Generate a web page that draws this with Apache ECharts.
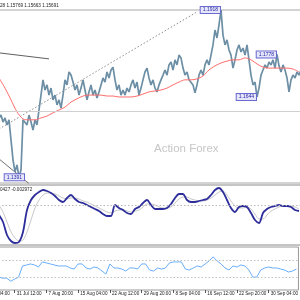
<!DOCTYPE html>
<html><head><meta charset="utf-8">
<script src="https://cdn.jsdelivr.net/npm/echarts@6/dist/echarts.min.js"></script>
<style>html,body{margin:0;padding:0;background:#fff;overflow:hidden;width:300px;height:300px}
#c{position:absolute;left:-33px;top:0;width:334px;height:300px}</style>
</head><body><div id="c"></div>
<script>
// ---- data (4H bars, sampled) ----
const tickLabels = ['24 Jul 04:00','31 Jul 12:00','7 Aug 20:00','15 Aug 04:00','22 Aug 12:00','29 Aug 20:00','8 Sep 04:00','16 Sep 12:00','22 Sep 20:00','30 Sep 04:00'];
const headerMain = '28 1.15769 1.15663 1.15691';
const headerMacd = '0427 -0.002972';
const priceClose = [1.1578,1.1587,1.1565,1.1578,1.1556,1.1572,1.1509,1.1446,1.1408,1.1430,1.1391,1.1414,
1.1572,1.1578,1.1556,1.1587,1.1565,1.1540,1.1572,1.1556,1.1603,1.1650,1.1698,1.1666,1.1682,1.1650,1.1672,1.1635,
1.1650,1.1619,1.1635,1.1609,1.1650,1.1698,1.1682,1.1723,1.1713,1.1691,1.1666,1.1682,1.1650,1.1672,1.1698,1.1666,
1.1635,1.1660,1.1682,1.1650,1.1666,1.1641,1.1660,1.1682,1.1704,1.1691,1.1723,1.1704,1.1729,1.1738,1.1698,1.1666,
1.1682,1.1650,1.1666,1.1650,1.1672,1.1660,1.1682,1.1698,1.1672,1.1691,1.1650,1.1672,1.1698,1.1723,1.1735,1.1704,
1.1682,1.1698,1.1672,1.1660,1.1682,1.1698,1.1713,1.1729,1.1713,1.1745,1.1754,1.1729,1.1761,1.1745,1.1776,1.1767,
1.1735,1.1713,1.1723,1.1698,1.1704,1.1682,1.1657,1.1682,1.1713,1.1729,1.1713,1.1745,1.1761,1.1745,1.1776,1.1808,
1.1855,1.1830,1.1871,1.1918,1.1839,1.1808,1.1824,1.1792,1.1776,1.1735,1.1761,1.1792,1.1808,1.1786,1.1798,1.1776,
1.1808,1.1761,1.1713,1.1682,1.1691,1.1644,1.1672,1.1713,1.1729,1.1745,1.1735,1.1754,1.1745,1.1761,1.1735,1.1778,
1.1742,1.1723,1.1745,1.1729,1.1704,1.1660,1.1698,1.1713,1.1704,1.1723,1.1713,1.1729];
const maLine = [1.1704,1.1672,1.1635,1.1597,1.1575,1.1572,1.1572,1.1578,1.1584,1.1594,1.1603,1.1612,1.1628,1.1638,
1.1647,1.1650,1.1650,1.1650,1.1647,1.1647,1.1644,1.1644,1.1644,1.1647,1.1653,1.1660,1.1663,1.1666,1.1672,1.1682,
1.1691,1.1698,1.1698,1.1701,1.1710,1.1729,1.1742,1.1751,1.1757,1.1761,1.1761,1.1767,1.1761,1.1748,1.1738,1.1735,
1.1735,1.1735,1.1735,1.1732,1.1723];
const macdMain = [-0.0010,-0.0017,-0.0030,-0.0036,-0.0038,-0.0037,-0.0027,-0.0005,0.0005,0.0010,0.0013,0.0015,0.0014,
0.0012,0.0009,0.0005,0.0003,0.0007,0.0010,0.0006,0.0003,0.0002,0.0000,-0.0002,-0.0004,-0.0006,-0.0009,-0.0011,-0.0011,
0.0000,-0.0003,-0.0005,-0.0008,-0.0009,-0.0004,-0.0002,0.0002,0.0005,0.0000,-0.0004,-0.0004,-0.0004,-0.0003,0.0001,
0.0007,0.0011,0.0011,0.0005,0.0003,0.0003,0.0004,0.0005,0.0006,0.0010,0.0015,0.0017,0.0013,0.0005,-0.0003,-0.0007,
-0.0002,-0.0001,-0.0002,-0.0008,-0.0015,-0.0018,-0.0008,-0.0004,-0.0002,-0.0001,0.0000,-0.0001,-0.0001,-0.0002,-0.0005,-0.0006];
const macdSignal = [0.0000,-0.0007,-0.0017,-0.0027,-0.0033,-0.0036,-0.0035,-0.0027,-0.0015,-0.0003,0.0005,0.0010,0.0012,
0.0012,0.0011,0.0009,0.0007,0.0006,0.0007,0.0007,0.0006,0.0004,0.0003,0.0001,-0.0001,-0.0003,-0.0005,-0.0007,-0.0008,
-0.0006,-0.0005,-0.0005,-0.0006,-0.0007,-0.0006,-0.0005,-0.0002,0.0001,0.0001,0.0000,-0.0002,-0.0003,-0.0003,-0.0002,
0.0002,0.0006,0.0008,0.0008,0.0006,0.0005,0.0004,0.0004,0.0005,0.0007,0.0010,0.0013,0.0014,0.0010,0.0004,-0.0001,
-0.0003,-0.0003,-0.0002,-0.0004,-0.0009,-0.0014,-0.0014,-0.0010,-0.0006,-0.0004,-0.0002,-0.0001,-0.0001,-0.0001,-0.0002,-0.0004];
const rsiLine = [30,27.6,27.6,20.6,25.3,30,55.9,58.2,60.6,58.2,53.5,65.3,62.9,60.6,58.2,55.9,55.9,55.9,51.2,48.8,60.6,60.6,
51.2,48.8,53.5,51.2,44.1,37.1,60.6,51.2,51.2,48.8,44.1,51.2,51.2,48.8,60.6,60.6,46.5,44.1,51.2,48.8,51.2,62.9,65.3,65.3,
65.3,48.8,46.5,51.2,55.9,53.5,60.6,67.6,77.1,67.6,60.6,51.2,46.5,55.9,53.5,58.2,55.9,46.5,30,30,46.5,51.2,53.5,51.2,
51.2,48.8,46.5,41.8,44.1,48.8];
// annotations: [bar index, price]
const trendDotted = [[16,1.1543],[115,1.1912]];
const trendUpper = [[16,1.1783],[41,1.1764]];
const trendLower = [[16,1.1449],[31,1.1371]];
const supportLevel = 1.1644;
const bidLevel = 1.15691;
const priceLabels = [
  {bar:127, price:1.1918, text:'1.1918'},
  {bar:155, price:1.1778, text:'1.1778'},
  {bar:145, price:1.1644, text:'1.1644'},
  {bar:29,  price:1.1391, text:'1.1391'}
];
const rsiLevels = [70, 30];
const macdLevel = 0;

// ---- layout ----
const N = 168, FIRST = 16, TICK0 = 8, TICKSTEP = 16, SHIFT = 33;
const cats = Array.from({length:N}, (_, i) => String(i));
const pad = n => Array(n).fill(null);
const sparse = (arr, step) => arr.map((v, k) => [FIRST + step * k, v]);
const isTick = i => i >= TICK0 && (i - TICK0) % TICKSTEP === 0;
const FONT = 'Liberation Sans';

const chart = echarts.init(document.getElementById('c'), null, {renderer:'canvas'});
const baseX = (g) => ({
  type:'category', gridIndex:g, data:cats, boundaryGap:false,
  axisLine:{show:false}, axisTick:{show:false}, axisLabel:{show:false}, splitLine:{show:false}
});
const baseY = (g, min, max) => ({
  type:'value', gridIndex:g, min, max, show:false, splitLine:{show:false}
});
const xAxes = [baseX(0), baseX(1), baseX(2)];
xAxes[2].axisTick = {show:true, interval:(i)=>isTick(i), length:3, lineStyle:{color:'#555', width:1}};
xAxes[2].axisLabel = {show:true, interval:(i)=>isTick(i), margin:1, align:'left', padding:[0,0,0,2],
  fontSize:4.6, fontFamily:FONT, color:'#222',
  formatter:(v)=> tickLabels[(Number(v) - TICK0) / TICKSTEP] || ''};

const labelStyle = {show:true, position:'left', distance:1, fontSize:5, fontFamily:FONT, color:'#2a2aa8',
  backgroundColor:'#e6e6fb', borderColor:'#6a6ad0', borderWidth:1, padding:[1,2,0,2]};

chart.setOption({
  animation:false,
  backgroundColor:'#ffffff',
  title:[
    {text:headerMain, left:SHIFT, top:3, padding:0, textStyle:{fontSize:4.6, fontWeight:'normal', fontFamily:FONT, color:'#222'}},
    {text:headerMacd, left:SHIFT, top:187, padding:0, textStyle:{fontSize:4.6, fontWeight:'normal', fontFamily:FONT, color:'#222'}}
  ],
  graphic:[{type:'text', left:SHIFT + 154, top:143, style:{text:'Action Forex', fontSize:11.5, fontFamily:FONT, fill:'#c6c6c6'}}],
  grid:[
    {left:0, right:0, top:10, height:173, show:true, borderColor:'#a8a8a8', borderWidth:1},
    {left:0, right:0, top:185, height:60, show:true, borderColor:'#8a8a8a', borderWidth:1},
    {left:0, right:0, top:247, height:43, show:true, borderColor:'#9a9a9a', borderWidth:1}
  ],
  xAxis: xAxes,
  yAxis:[baseY(0, 1.1373, 1.1918), baseY(1, -0.004, 0.002), baseY(2, 0, 100)],
  series:[
    {type:'line', name:'trendDotted', xAxisIndex:0, yAxisIndex:0, data:trendDotted, symbol:'none',
      lineStyle:{color:'#8c8c8c', width:1, type:[1.5,2]}, z:1},
    {type:'line', name:'trendUpper', xAxisIndex:0, yAxisIndex:0, data:trendUpper, symbol:'none',
      lineStyle:{color:'#606060', width:1}, z:1},
    {type:'line', name:'trendLower', xAxisIndex:0, yAxisIndex:0, data:trendLower, symbol:'none',
      lineStyle:{color:'#707070', width:1}, z:1},
    {type:'line', name:'price', xAxisIndex:0, yAxisIndex:0, data:pad(FIRST).concat(priceClose), symbol:'none',
      lineStyle:{color:'#6c8fa5', width:1.7}, z:3,
      markLine:{silent:true, symbol:['none','none'], label:{show:false},
        data:[{yAxis:supportLevel, lineStyle:{color:'#9a9a9a', type:[1.5,2], width:1}},
              {yAxis:bidLevel, lineStyle:{color:'#d0d0d0', type:'solid', width:1}}]},
      markPoint:{symbol:'circle', symbolSize:0, silent:true,
        data: priceLabels.map(p => ({coord:[p.bar, p.price], value:p.text,
          label:Object.assign({}, labelStyle, {formatter:p.text})}))}
    },
    {type:'line', name:'ma', xAxisIndex:0, yAxisIndex:0, data:sparse(maLine, 3), symbol:'none', smooth:0.3,
      lineStyle:{color:'#ff6e6e', width:1}, z:4},
    {type:'line', name:'signal', xAxisIndex:1, yAxisIndex:1, data:sparse(macdSignal, 2), symbol:'none', smooth:0.3,
      lineStyle:{color:'#c9c9c9', width:1}, z:2,
      markLine:{silent:true, symbol:['none','none'], label:{show:false},
        data:[{yAxis:macdLevel, lineStyle:{color:'#b8b8b8', type:[1.5,2], width:1}}]}},
    {type:'line', name:'macd', xAxisIndex:1, yAxisIndex:1, data:sparse(macdMain, 2), symbol:'none', smooth:0.3,
      lineStyle:{color:'#2d2d9c', width:1.8}, z:3},
    {type:'line', name:'rsi', xAxisIndex:2, yAxisIndex:2, data:sparse(rsiLine, 2), symbol:'none',
      lineStyle:{color:'#69aefc', width:1}, z:3,
      markLine:{silent:true, symbol:['none','none'], label:{show:false},
        data: rsiLevels.map(l => ({yAxis:l, lineStyle:{color:'#c0c0c0', type:[1.5,2], width:1}}))}}
  ]
});
</script>
</body></html>
